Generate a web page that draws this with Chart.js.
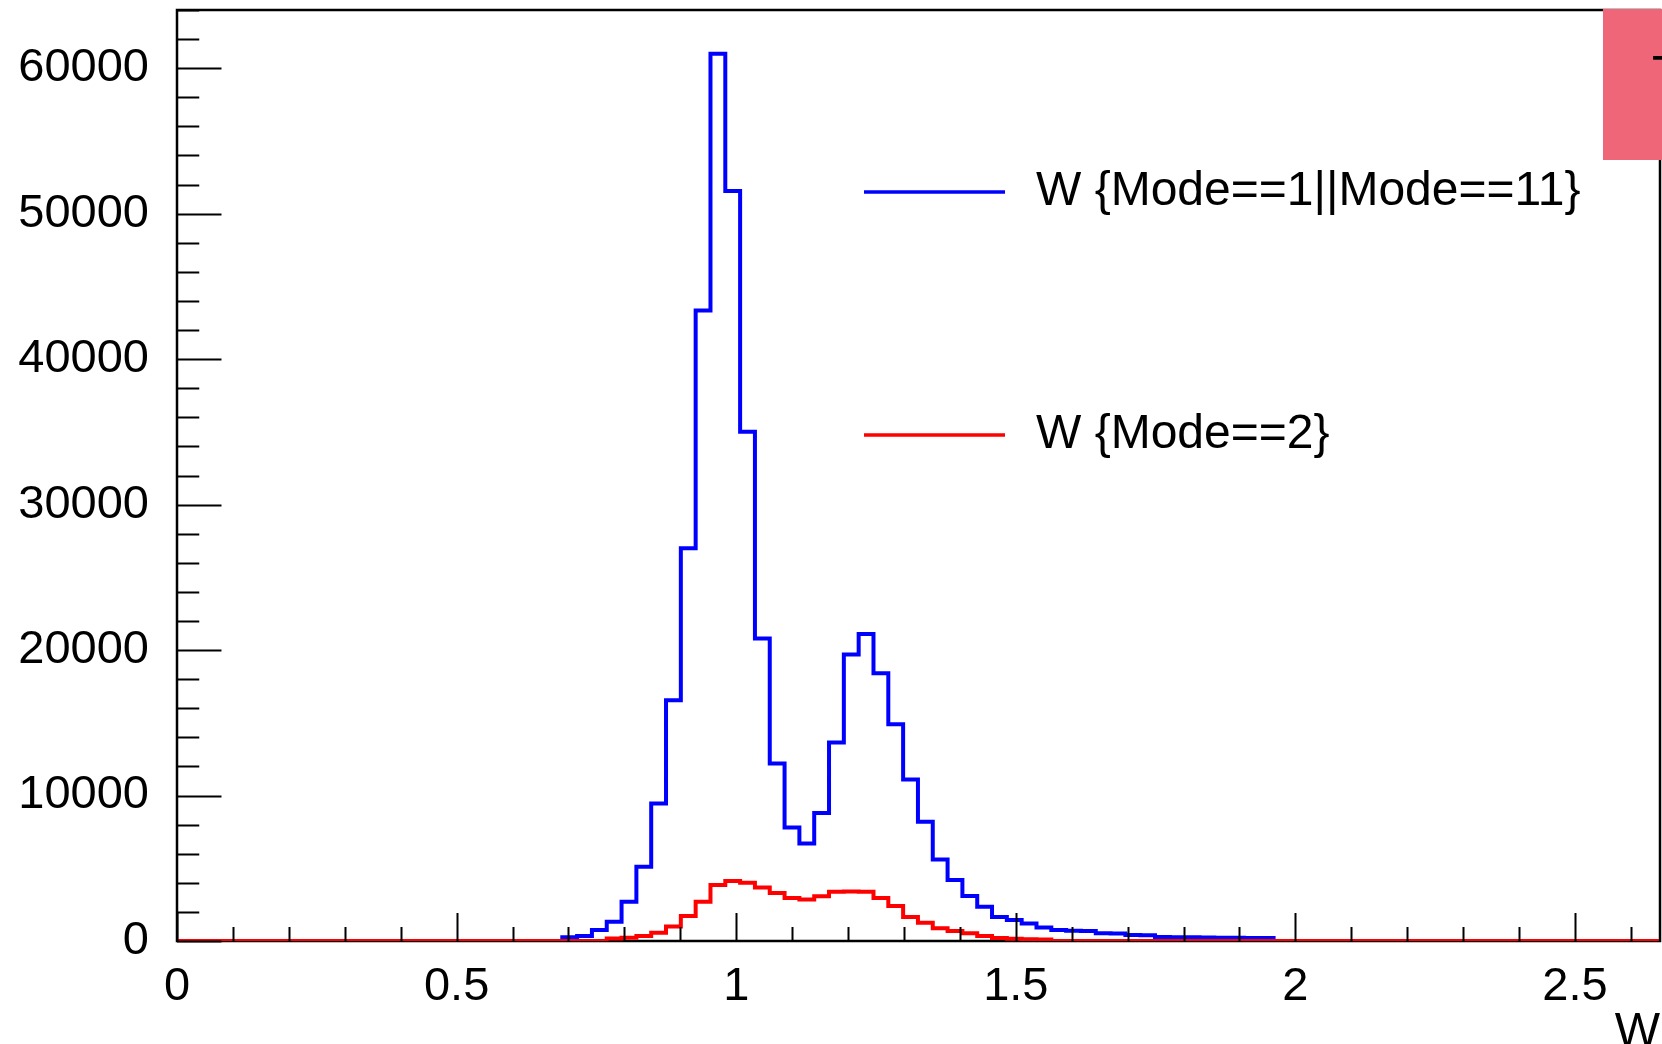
<!DOCTYPE html>
<html>
<head>
<meta charset="utf-8">
<script src="https://cdn.jsdelivr.net/npm/chart.js@4.4.0/dist/chart.umd.min.js"></script>
<style>
  html, body { margin: 0; padding: 0; background: #fff; }
  #wrap { width: 1662px; height: 1044px; }
</style>
</head>
<body>
<div id="wrap"><canvas id="wChart" width="1662" height="1044"></canvas></div>
<script>
// W histogram, 100 bins starting at 0
const binLow = 0;
const binWidth = 0.0265;
const xMax = 2.652;
const yMax = 64000;

const xTicks = [0, 0.5, 1, 1.5, 2, 2.5];
const yTicks = [0, 10000, 20000, 30000, 40000, 50000, 60000];

const blueLabel = 'W {Mode==1||Mode==11}';
const redLabel = 'W {Mode==2}';
const titleText = 'T';

const blueCounts = [
    0, 0, 0, 0, 0, 0, 0, 0, 0, 0,
    0, 0, 0, 0, 0, 0, 0, 0, 0, 0,
    0, 0, 0, 0, 0, 0, 250, 350, 750, 1330,
    2700, 5100, 9450, 16550, 27000, 43350, 61000, 51550, 35000, 20800,
    12200, 7800, 6700, 8800, 13650, 19700, 21100, 18400, 14900, 11100,
    8200, 5600, 4200, 3100, 2350, 1650, 1450, 1200, 920, 760,
    710, 690, 540, 520, 420, 400, 280, 260, 250, 240,
    230, 220, 210, 200, 0, 0, 0, 0, 0, 0,
    0, 0, 0, 0, 0, 0, 0, 0, 0, 0,
    0, 0, 0, 0, 0, 0, 0, 0, 0, 0
];

const redCounts = [
    0, 0, 0, 0, 0, 0, 0, 0, 0, 0,
    0, 0, 0, 0, 0, 0, 0, 0, 0, 0,
    0, 0, 0, 0, 0, 0, 0, 0, 0, 180,
    230, 340, 570, 990, 1720, 2700, 3850, 4120, 4000, 3680,
    3300, 2950, 2860, 3080, 3380, 3400, 3390, 2950, 2400, 1650,
    1260, 880, 690, 530, 350, 200, 150, 120, 100, 0,
    0, 0, 0, 0, 0, 0, 0, 0, 0, 0,
    0, 0, 0, 0, 0, 0, 0, 0, 0, 0,
    0, 0, 0, 0, 0, 0, 0, 0, 0, 0,
    0, 0, 0, 0, 0, 0, 0, 0, 0, 0
];

// step points at the lower edge of each bin, plus the upper edge of the last one
function toSteps(counts) {
    const pts = counts.map((c, i) => ({ x: binLow + i * binWidth, y: c }));
    pts.push({ x: binLow + counts.length * binWidth, y: counts[counts.length - 1] });
    return pts;
}

const FONT = '"Liberation Sans", Arial, Helvetica, sans-serif';

const rootFrame = {
    id: 'rootFrame',
    beforeDatasetsDraw(chart) {
        const { ctx, chartArea: a } = chart;
        ctx.save();
        ctx.strokeStyle = '#000';
        ctx.lineWidth = 2.5;
        ctx.strokeRect(a.left, a.top, a.right - a.left, a.bottom - a.top);
        ctx.restore();
    },
    afterDatasetsDraw(chart) {
        const { ctx, chartArea: a, scales } = chart;
        const x = scales.x, y = scales.y;
        const yLen = 0.03 * (a.right - a.left);
        const xLen = 0.03 * (a.bottom - a.top);
        ctx.save();
        ctx.strokeStyle = '#000';
        ctx.lineWidth = 2;
        ctx.beginPath();
        for (let k = 0; k * 2000 <= y.max; k++) {
            const py = Math.round(y.getPixelForValue(k * 2000)) + 0.5;
            ctx.moveTo(a.left, py);
            ctx.lineTo(a.left + (k % 5 === 0 ? yLen : yLen / 2), py);
        }
        for (let k = 0; k * 0.1 <= x.max; k++) {
            const px = Math.round(x.getPixelForValue(k * 0.1)) + 0.5;
            ctx.moveTo(px, a.bottom);
            ctx.lineTo(px, a.bottom - (k % 5 === 0 ? xLen : xLen / 2));
        }
        ctx.stroke();
        ctx.restore();
    },
    afterDraw(chart) {
        const { ctx } = chart;
        ctx.save();
        // legend
        const items = chart.data.datasets;
        const rows = [192, 435];
        ctx.font = '48px ' + FONT;
        ctx.textBaseline = 'middle';
        ctx.textAlign = 'left';
        items.forEach((ds, i) => {
            ctx.strokeStyle = ds.borderColor;
            ctx.lineWidth = 3.5;
            ctx.beginPath();
            ctx.moveTo(864, rows[i]);
            ctx.lineTo(1005, rows[i]);
            ctx.stroke();
            ctx.fillStyle = '#000';
            ctx.fillText(ds.label, 1036, rows[i]);
        });
        // title pave, cut by the canvas edge
        ctx.fillStyle = '#ef6679';
        ctx.fillRect(1603, 9, 80, 151);
        ctx.fillStyle = '#000';
        ctx.textBaseline = 'alphabetic';
        ctx.fillText(titleText, 1652, 89);
        // x axis title
        ctx.textAlign = 'right';
        ctx.fillText('W', 1660, 1046);
        ctx.restore();
    }
};

new Chart(document.getElementById('wChart'), {
    type: 'line',
    data: {
        datasets: [{
            label: blueLabel,
            data: toSteps(blueCounts),
            borderColor: '#0000ff',
            borderWidth: 4,
            stepped: 'before',
            pointRadius: 0,
            fill: false,
            order: 2
        }, {
            label: redLabel,
            data: toSteps(redCounts),
            borderColor: '#ff0000',
            borderWidth: 4,
            stepped: 'before',
            pointRadius: 0,
            fill: false,
            order: 1
        }]
    },
    options: {
        responsive: false,
        animation: false,
        layout: { padding: { top: 10, right: 2, left: 0, bottom: 0 } },
        plugins: {
            legend: { display: false },
            tooltip: { enabled: false }
        },
        scales: {
            x: {
                type: 'linear',
                min: 0,
                max: xMax,
                grid: { display: false, drawTicks: false },
                border: { display: false },
                afterBuildTicks: s => { s.ticks = xTicks.map(v => ({ value: v })); },
                afterFit: s => {
                    s.height = 103;
                    s.paddingLeft = 0; s.paddingRight = 0;
                    s.paddingTop = 0; s.paddingBottom = 0;
                },
                ticks: {
                    color: '#000',
                    padding: 18,
                    maxRotation: 0,
                    autoSkip: false,
                    font: { family: FONT, size: 47 },
                    callback: v => String(v)
                }
            },
            y: {
                min: 0,
                max: yMax,
                grid: { display: false, drawTicks: false },
                border: { display: false },
                afterBuildTicks: s => { s.ticks = yTicks.map(v => ({ value: v })); },
                afterFit: s => {
                    s.width = 177;
                    s.paddingLeft = 0; s.paddingRight = 0;
                    s.paddingTop = 0; s.paddingBottom = 0;
                },
                ticks: {
                    color: '#000',
                    padding: 28,
                    font: { family: FONT, size: 47 },
                    callback: v => String(v)
                }
            }
        }
    },
    plugins: [rootFrame]
});
</script>
</body>
</html>
